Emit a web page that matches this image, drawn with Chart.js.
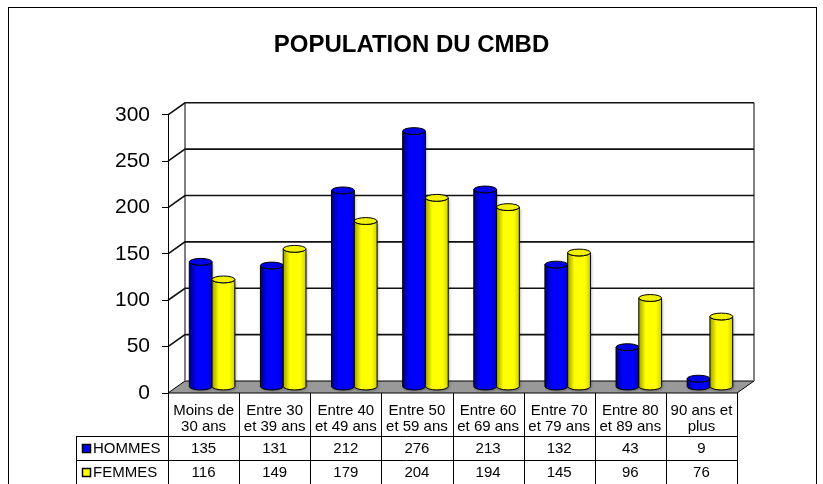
<!DOCTYPE html>
<html>
<head>
<meta charset="utf-8">
<title>POPULATION DU CMBD</title>
<script src="https://cdn.jsdelivr.net/npm/chart.js@4.4.1/dist/chart.umd.min.js"></script>
<style>
  html, body { margin: 0; padding: 0; background: #fff; }
  #wrap { width: 823px; height: 484px; }
</style>
</head>
<body>
<div id="wrap"><canvas id="chart" width="823" height="484"></canvas></div>
<script>
'use strict';

const categories = [
  ['Moins de', '30 ans'],
  ['Entre 30', 'et 39 ans'],
  ['Entre 40', 'et 49 ans'],
  ['Entre 50', 'et 59 ans'],
  ['Entre 60', 'et 69 ans'],
  ['Entre 70', 'et 79 ans'],
  ['Entre 80', 'et 89 ans'],
  ['90 ans et', 'plus']
];
const seriesNames = ['HOMMES', 'FEMMES'];
const hommes = [135, 131, 212, 276, 213, 132, 43, 9];
const femmes = [116, 149, 179, 204, 194, 145, 96, 76];
const yMin = 0;
const yMax = 300;
const yStep = 50;

const FONT = '"Liberation Sans", Arial, sans-serif';
const DEPTH_X = 17;
const DEPTH_Y = -12;

const palette = [
  { main: '#0000ff', dark: '#00007a', mid: '#0000c0', top: '#0000e6', key: '#0000ff' },
  { main: '#ffff00', dark: '#a0a000', mid: '#d0d000', top: '#f2f200', key: '#ffff00' }
];

function drawCylinder(ctx, cx, top, base, w, c) {
  const rx = w / 2;
  const ry = Math.max(2, w * 0.15);
  const left = cx - rx;

  const grad = ctx.createLinearGradient(left, 0, left + w, 0);
  grad.addColorStop(0, c.dark);
  grad.addColorStop(0.3, c.main);
  grad.addColorStop(0.75, c.main);
  grad.addColorStop(1, c.mid);

  ctx.save();
  ctx.beginPath();
  ctx.moveTo(left, top);
  ctx.lineTo(left, base);
  ctx.ellipse(cx, base, rx, ry, 0, Math.PI, 0, true);
  ctx.lineTo(left + w, top);
  ctx.ellipse(cx, top, rx, ry, 0, 0, Math.PI, false);
  ctx.closePath();
  ctx.shadowColor = 'rgba(0,0,0,0.35)';
  ctx.shadowBlur = 3;
  ctx.shadowOffsetX = 1;
  ctx.shadowOffsetY = 1;
  ctx.fillStyle = grad;
  ctx.fill();
  ctx.shadowColor = 'transparent';
  ctx.lineWidth = 1;
  ctx.strokeStyle = '#000';
  ctx.stroke();

  ctx.beginPath();
  ctx.ellipse(cx, top, rx, ry, 0, 0, Math.PI * 2);
  ctx.fillStyle = c.top;
  ctx.fill();
  ctx.stroke();
  ctx.restore();
}

const wallsPlugin = {
  id: 'walls',
  beforeDraw(chart) {
    const ctx = chart.ctx;
    const area = chart.chartArea;
    const y = chart.scales.y;
    const l = area.left, r = area.right, b = area.bottom;

    ctx.save();
    ctx.fillStyle = '#fff';
    ctx.fillRect(0, 0, chart.width, chart.height);
    ctx.strokeStyle = '#000';
    ctx.lineWidth = 1;
    ctx.strokeRect(8.5, 7.5, 808, 520);

    // floor
    ctx.beginPath();
    ctx.moveTo(l, b);
    ctx.lineTo(r, b);
    ctx.lineTo(r + DEPTH_X, b + DEPTH_Y);
    ctx.lineTo(l + DEPTH_X, b + DEPTH_Y);
    ctx.closePath();
    ctx.fillStyle = '#999';
    ctx.fill();
    ctx.strokeStyle = '#000';
    ctx.stroke();

    // back wall edges
    const t = y.getPixelForValue(yMax);
    ctx.strokeStyle = '#808080';
    ctx.lineWidth = 2;
    ctx.beginPath();
    ctx.moveTo(l + DEPTH_X, b + DEPTH_Y);
    ctx.lineTo(l + DEPTH_X, t + DEPTH_Y);
    ctx.moveTo(r + DEPTH_X, b + DEPTH_Y);
    ctx.lineTo(r + DEPTH_X, t + DEPTH_Y);
    ctx.stroke();

    // gridlines on side and back walls
    ctx.strokeStyle = '#111';
    ctx.lineWidth = 1.6;
    for (let v = yMin + yStep; v <= yMax; v += yStep) {
      const py = y.getPixelForValue(v);
      ctx.beginPath();
      ctx.moveTo(l, py);
      ctx.lineTo(l + DEPTH_X, py + DEPTH_Y);
      ctx.lineTo(r + DEPTH_X, py + DEPTH_Y);
      ctx.stroke();
    }
    ctx.restore();
  },
  beforeDatasetsDraw(chart) {
    const ctx = chart.ctx;
    chart.getSortedVisibleDatasetMetas().forEach(function (meta) {
      const c = palette[meta.index];
      meta.data.forEach(function (bar) {
        const p = bar.getProps(['x', 'y', 'base', 'width'], true);
        drawCylinder(ctx, p.x + DEPTH_X / 2, p.y + DEPTH_Y / 2, p.base + DEPTH_Y / 2, p.width, c);
      });
    });
    return false;
  },
  afterDraw(chart) {
    const ctx = chart.ctx;
    const area = chart.chartArea;
    const x = chart.scales.x;
    const l = area.left, r = area.right, b = area.bottom;
    const n = categories.length;
    const colW = (r - l) / n;
    const row1 = b + 43;
    const rowH = 24;
    const labelLeft = 76;

    ctx.save();
    ctx.strokeStyle = '#000';
    ctx.lineWidth = 1;
    ctx.beginPath();
    for (let i = 0; i <= n; i++) {
      const px = Math.round(l + i * colW) + 0.5;
      ctx.moveTo(px, b);
      ctx.lineTo(px, chart.height);
    }
    ctx.moveTo(labelLeft + 0.5, row1);
    ctx.lineTo(labelLeft + 0.5, chart.height);
    ctx.moveTo(labelLeft, row1 + 0.5);
    ctx.lineTo(r, row1 + 0.5);
    ctx.moveTo(labelLeft, row1 + rowH + 0.5);
    ctx.lineTo(r, row1 + rowH + 0.5);
    ctx.stroke();

    ctx.fillStyle = '#000';
    ctx.font = '15px ' + FONT;
    ctx.textAlign = 'center';
    ctx.textBaseline = 'middle';
    categories.forEach(function (lines, i) {
      const cx = x.getPixelForValue(i);
      ctx.fillText(lines[0], cx, b + 18);
      ctx.fillText(lines[1], cx, b + 34);
      ctx.fillText(String(hommes[i]), cx, row1 + rowH / 2 + 1);
      ctx.fillText(String(femmes[i]), cx, row1 + rowH * 1.5 + 1);
    });

    ctx.textAlign = 'left';
    seriesNames.forEach(function (name, k) {
      const cy = row1 + rowH * (k + 0.5) + 1;
      ctx.fillStyle = palette[k].key;
      ctx.fillRect(82.5, cy - 4.5, 8, 8);
      ctx.strokeStyle = '#000';
      ctx.lineWidth = 1.5;
      ctx.strokeRect(82.5, cy - 4.5, 8, 8);
      ctx.fillStyle = '#000';
      ctx.fillText(name, 93, cy);
    });
    ctx.restore();
  }
};

const ctx = document.getElementById('chart').getContext('2d');
new Chart(ctx, {
  type: 'bar',
  data: {
    labels: categories,
    datasets: [
      { label: seriesNames[0], data: hommes, backgroundColor: palette[0].main },
      { label: seriesNames[1], data: femmes, backgroundColor: palette[1].main }
    ]
  },
  options: {
    responsive: false,
    animation: false,
    devicePixelRatio: 1,
    categoryPercentage: 0.64,
    barPercentage: 1,
    layout: { padding: { left: 0, right: 0, top: 0, bottom: 91 } },
    plugins: {
      legend: { display: false },
      tooltip: { enabled: false },
      title: {
        display: true,
        text: 'POPULATION DU CMBD',
        color: '#000',
        font: { family: FONT, size: 24, weight: 'bold' },
        padding: { top: 31, bottom: 55 }
      }
    },
    scales: {
      x: { display: false },
      y: {
        min: yMin,
        max: yMax,
        afterFit(scale) { scale.width = 168; },
        border: { display: true, color: '#000', width: 1 },
        grid: { display: true, drawOnChartArea: false, drawTicks: true, tickLength: 6, color: '#000' },
        ticks: {
          stepSize: yStep,
          color: '#000',
          padding: 12,
          font: { family: FONT, size: 21 }
        }
      },
      // empty axis that only reserves the right margin
      spacer: {
        position: 'right',
        min: yMin,
        max: yMax,
        afterFit(scale) { scale.width = 86; },
        border: { display: false },
        grid: { display: false },
        ticks: { display: false }
      }
    }
  },
  plugins: [wallsPlugin]
});
</script>
</body>
</html>
